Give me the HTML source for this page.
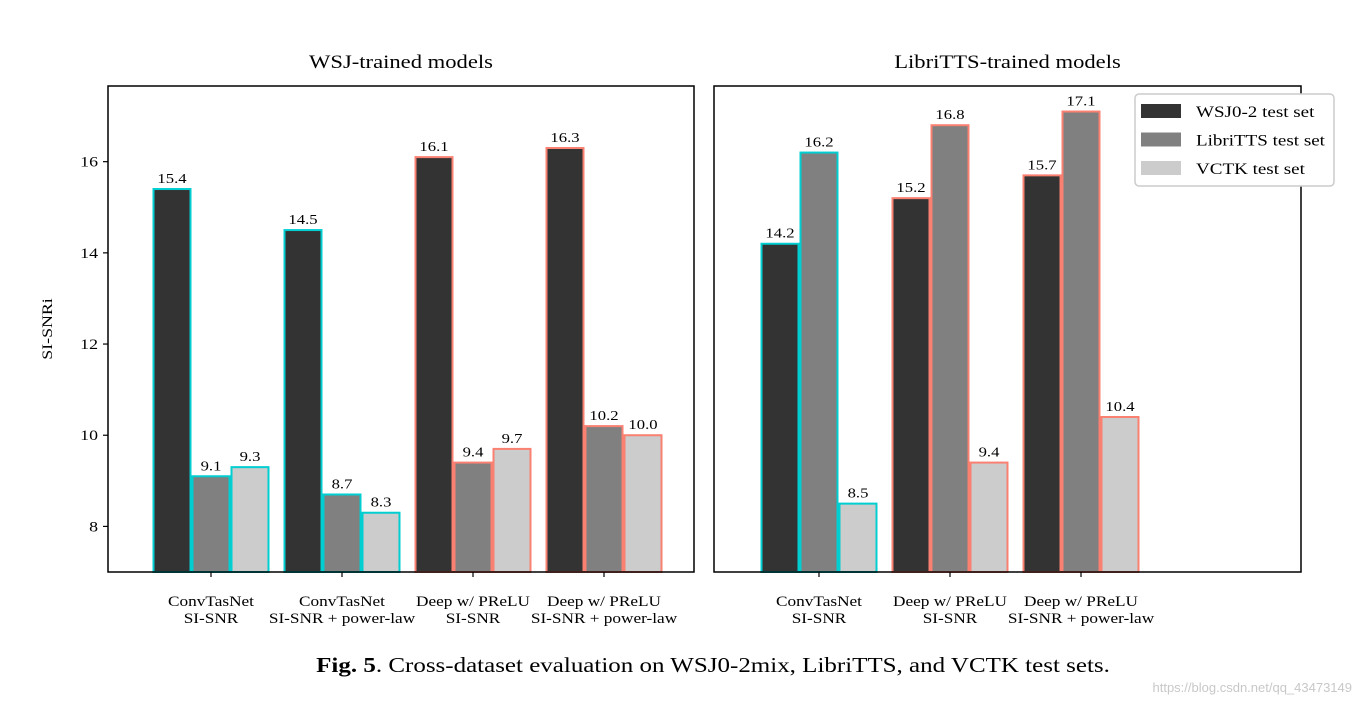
<!DOCTYPE html>
<html><head><meta charset="utf-8"><style>
body{margin:0;background:#fff;}
svg{display:block;font-family:"Liberation Serif",serif;}
</style></head><body>
<svg id="chart" width="1361" height="703">
</svg>
<script>
const leftGroups=["ConvTasNet|SI-SNR","ConvTasNet|SI-SNR + power-law","Deep w/ PReLU|SI-SNR","Deep w/ PReLU|SI-SNR + power-law"];
const leftWSJ=[15.4,14.5,16.1,16.3];
const leftLibri=[9.1,8.7,9.4,10.2];
const leftVCTK=[9.3,8.3,9.7,10.0];
const leftEdge=["#00CED1","#00CED1","#FA8072","#FA8072"];
const rightGroups=["ConvTasNet|SI-SNR","Deep w/ PReLU|SI-SNR","Deep w/ PReLU|SI-SNR + power-law"];
const rightWSJ=[14.2,15.2,15.7];
const rightLibri=[16.2,16.8,17.1];
const rightVCTK=[8.5,9.4,10.4];
const rightEdge=["#00CED1","#FA8072","#FA8072"];
const yTicks=[8,10,12,14,16];
const seriesNames=["WSJ0-2 test set","LibriTTS test set","VCTK test set"];
const fills=["#333333","#808080","#cccccc"];

const svg=document.getElementById('chart');
const NS="http://www.w3.org/2000/svg";
const SX=1.19;
function mk(tag,attrs,parent){const e=document.createElementNS(NS,tag);for(const k in attrs)e.setAttribute(k,attrs[k]);(parent||svg).appendChild(e);return e;}
function txt(x,yy,size,anchor,str,parent,extra){
  const e=mk('text',Object.assign({x:0,y:0,'font-size':size,'text-anchor':anchor,transform:'translate('+x+' '+yy+') scale('+SX+' 1)'},extra||{}),parent);
  e.textContent=str;return e;
}
const yTop=86,yBot=572,yMin=7,yMax=17.66;
function y(v){return yBot-(v-yMin)/(yMax-yMin)*(yBot-yTop);}

function panel(x0,x1,title,groups,series,edges,c0,name,showY){
  const g=mk('g',{});
  
  
  const t=txt((x0+x1)/2,68,19,'middle',title,g);
  
  
  const bw=39,sp=131;
  groups.forEach((lab,i)=>{
    const cx=c0+i*sp;
    series.forEach((arr,s)=>{
      const bx=cx-bw*1.5+s*bw;
      const r=mk('rect',{x:bx+1,y:y(arr[i]),width:bw-2,height:yBot-y(arr[i]),fill:fills[s],stroke:edges[i],'stroke-width':2},g);
      
      
      const v=txt(bx+bw/2,y(arr[i])-6,14,'middle',arr[i].toFixed(1),g);
      
      
    });
    mk('line',{x1:cx,x2:cx,y1:yBot,y2:yBot+5,stroke:'#000','stroke-width':1.2},g);
    const parts=lab.split('|');
    parts.forEach((p,k)=>{const tl=txt(cx,606+k*17,14.5,'middle',p,g);
      
      });
  });
  if(showY){
    yTicks.forEach(v=>{mk('line',{x1:x0-5,x2:x0,y1:y(v),y2:y(v),stroke:'#000','stroke-width':1.2},g);
      const tl=txt(x0-10,y(v)+5,15,'end',String(v),g);
      
      });
  }
  mk('rect',{x:x0,y:yTop,width:x1-x0,height:yBot-yTop,fill:'none',stroke:'#000','stroke-width':1.5},g);
}
panel(108,694,"WSJ-trained models",leftGroups,[leftWSJ,leftLibri,leftVCTK],leftEdge,211,'wsj-panel',true);
panel(714,1301,"LibriTTS-trained models",rightGroups,[rightWSJ,rightLibri,rightVCTK],rightEdge,819,'libritts-panel',false);

const yl=mk('text',{x:0,y:0,'text-anchor':'middle','font-size':15,transform:'translate(52 329) rotate(-90) scale(1.19 1)'});yl.textContent='SI-SNRi';



const lg=mk('g',{});


mk('rect',{x:1135,y:94,width:199,height:92,rx:4,fill:'#fff',stroke:'#ccc','stroke-width':1.5},lg);
seriesNames.forEach((n,i)=>{
  const sw=mk('rect',{x:1141,y:104+i*28.5,width:40,height:14,fill:fills[i]},lg);
  
  
  const t=txt(1196,117+i*28.5,16,'start',n,lg);
  
  
});

const cap=mk('text',{x:0,y:0,'text-anchor':'middle','font-size':21,transform:'translate(713 672) scale(1.19 1)'});
cap.innerHTML='<tspan font-weight="bold">Fig. 5</tspan>. Cross-dataset evaluation on WSJ0-2mix, LibriTTS, and VCTK test sets.';


const wm=mk('text',{x:1352,y:692,'text-anchor':'end','font-size':13,fill:'#c8c8c8','font-family':'Liberation Sans, sans-serif'});wm.textContent='https://blog.csdn.net/qq_43473149';


</script>
</body></html>
